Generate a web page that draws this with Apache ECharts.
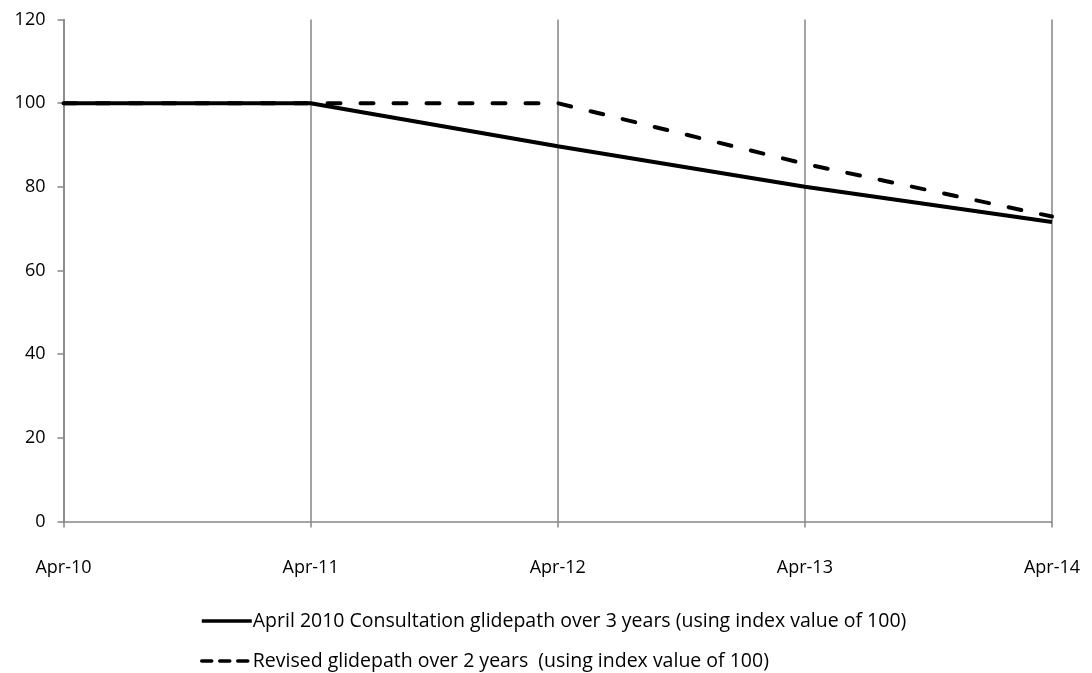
<!DOCTYPE html>
<html><head><meta charset="utf-8">
<script src="https://cdn.jsdelivr.net/npm/echarts@6/dist/echarts.min.js"></script>
<style>html,body{margin:0;padding:0;background:#fff}#c{width:1092px;height:673px}</style>
</head><body><div id="c"></div>
<script>
var categories = ['Apr-10','Apr-11','Apr-12','Apr-13','Apr-14'];
var consultationName = 'April 2010 Consultation glidepath over 3 years (using index value of 100)';
var revisedName = 'Revised glidepath over 2 years  (using index value of 100)';
var consultation = [100, 100, 89.7, 80, 71.6];
var revised = [100, 100, 100, 85.5, 72.9];
var yTicks = [0, 20, 40, 60, 80, 100, 120];

var font = 'Open Sans';
var chart = echarts.init(document.getElementById('c'));
chart.setOption({
  animation: false,
  textStyle: {fontFamily: font},
  grid: {left: 63.5, right: 40, top: 19.5, bottom: 151.5, containLabel: false},
  legend: {
    orient: 'vertical', left: 200, top: 611, itemGap: 20, padding: 0,
    itemWidth: 50, itemHeight: 18,
    itemStyle: {opacity: 0},
    textStyle: {fontFamily: font, fontSize: 19.5, color: '#000', padding: [0,0,0,-4]},
    data: [
      {name: consultationName, lineStyle: {width: 3.5, color: '#000', type: 'solid'}},
      {name: revisedName, lineStyle: {width: 3.5, color: '#000', type: [10, 8]}}
    ]
  },
  xAxis: {
    type: 'category', data: categories, boundaryGap: false,
    axisLine: {lineStyle: {color: '#868686', width: 1.5}},
    axisTick: {show: true, length: 6, lineStyle: {color: '#868686', width: 1.5}, alignWithLabel: true},
    axisLabel: {fontSize: 18, color: '#000', margin: 37, fontFamily: font},
    splitLine: {show: true, lineStyle: {color: '#868686', width: 1.5}}
  },
  yAxis: {
    type: 'value', min: yTicks[0], max: yTicks[yTicks.length-1], interval: 20,
    axisLine: {show: true, lineStyle: {color: '#868686', width: 1.5}},
    axisTick: {show: true, length: 6, lineStyle: {color: '#868686', width: 1.5}},
    axisLabel: {fontSize: 18, color: '#000', margin: 18, fontFamily: font},
    splitLine: {show: false}
  },
  series: [
    {name: consultationName, type: 'line', data: consultation, symbol: 'none',
     lineStyle: {color: '#000', width: 4}, itemStyle: {color: '#000'}, z: 3},
    {name: revisedName, type: 'line', data: revised, symbol: 'none',
     lineStyle: {color: '#000', width: 4, type: [13, 20], cap: 'round'}, itemStyle: {color: '#000'}, z: 4}
  ]
});
</script></body></html>
